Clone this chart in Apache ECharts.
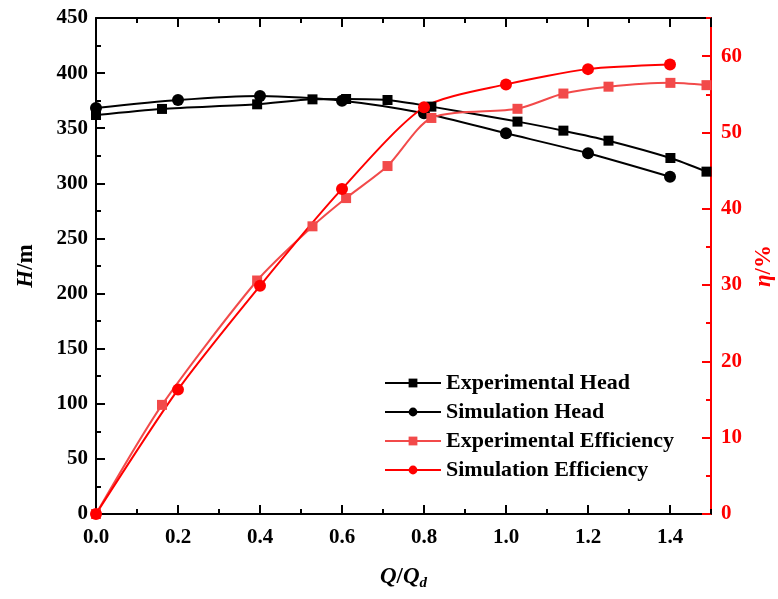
<!DOCTYPE html>
<html>
<head>
<meta charset="utf-8">
<script src="https://cdn.jsdelivr.net/npm/echarts@6/dist/echarts.min.js"></script>
<style>
  html, body { margin: 0; padding: 0; background: #fff; }
  #chart { width: 778px; height: 599px; }
</style>
</head>
<body>
<div id="chart"></div>
<script>
// Flow ratio Q/Qd for the measured points and the simulated points
var qExperimental = [0, 0.161, 0.393, 0.528, 0.610, 0.711, 0.818, 1.028, 1.140, 1.250, 1.401, 1.489];
var qSimulation = [0, 0.2, 0.4, 0.6, 0.8, 1.0, 1.2, 1.4];

// Head H (m)
var headExperimental = [362, 367.5, 371.7, 376.2, 376.5, 375.6, 369.6, 356.0, 347.8, 338.7, 323.0, 310.6];
var headSimulation = [368.4, 375.6, 379.3, 375.0, 363.6, 345.4, 327.3, 306.0];

// Efficiency η (%)
var effExperimental = [0, 14.3, 30.6, 37.7, 41.4, 45.6, 51.9, 53.1, 55.1, 56.0, 56.5, 56.2];
var effSimulation = [0, 16.3, 29.9, 42.6, 53.3, 56.3, 58.3, 58.9];

var seriesNames = ['Experimental Head', 'Simulation Head', 'Experimental Efficiency', 'Simulation Efficiency'];

function pairs(xs, ys) {
  return xs.map(function (x, i) { return [x, ys[i]]; });
}

var FONT = '"Liberation Serif", "DejaVu Serif", serif';
var BLACK = '#000000';
var RED = '#ff0000';
var LIGHT_RED = '#f24a4a';

var chart = echarts.init(document.getElementById('chart'), null, { renderer: 'canvas' });

var tickLabel = { fontFamily: FONT, fontWeight: 'bold', fontSize: 21, color: BLACK };
var gridBox = { left: 96, right: 67, top: 18, bottom: 85, containLabel: false, outerBoundsMode: 'none' };

// Ticks-only axis helper (used on the second, overlaid grid for minor ticks)
function minorAxis(pos, min, max, step, color, grid) {
  return {
    type: 'value', position: pos, gridIndex: grid, min: min, max: max, interval: step,
    axisLine: { show: false, onZero: false },
    axisTick: { show: true, inside: true, length: 5, lineStyle: { color: color, width: 2 } },
    axisLabel: { show: false },
    splitLine: { show: false }
  };
}

chart.setOption({
  animation: false,
  backgroundColor: '#ffffff',
  grid: [Object.assign({}, gridBox), Object.assign({}, gridBox)],
  legend: {
    orient: 'vertical',
    left: 379,
    top: 367,
    itemWidth: 56,
    itemHeight: 11,
    itemGap: 7,
    data: seriesNames,
    textStyle: { fontFamily: FONT, fontWeight: 'bold', fontSize: 22, color: BLACK }
  },
  xAxis: [
    {
      type: 'value', gridIndex: 0, position: 'bottom', min: 0, max: 1.5, interval: 0.2,
      name: '{i|Q}{n|/}{i|Q}{d|d}',
      nameLocation: 'middle', nameGap: 50,
      nameTextStyle: {
        rich: {
          i: { fontFamily: FONT, fontStyle: 'italic', fontWeight: 'bold', fontSize: 23, color: BLACK },
          n: { fontFamily: FONT, fontWeight: 'bold', fontSize: 23, color: BLACK },
          d: { fontFamily: FONT, fontStyle: 'italic', fontWeight: 'bold', fontSize: 15, color: BLACK, padding: [12, 0, 0, 0] }
        }
      },
      axisLine: { onZero: false, lineStyle: { color: BLACK, width: 2 } },
      axisTick: { inside: true, length: 9, lineStyle: { color: BLACK, width: 2 } },
      axisLabel: Object.assign({ margin: 13, showMaxLabel: false, formatter: function (v) { return v.toFixed(1); } }, tickLabel),
      splitLine: { show: false }
    },
    {
      type: 'value', gridIndex: 0, position: 'top', min: 0, max: 1.5, interval: 0.2,
      axisLine: { onZero: false, lineStyle: { color: BLACK, width: 2 } },
      axisTick: { inside: true, length: 9, lineStyle: { color: BLACK, width: 2 } },
      axisLabel: { show: false },
      splitLine: { show: false }
    },
    minorAxis('bottom', 0, 1.5, 0.1, BLACK, 1),
    minorAxis('top', 0, 1.5, 0.1, BLACK, 1)
  ],
  yAxis: [
    {
      type: 'value', gridIndex: 0, position: 'left', min: 0, max: 450, interval: 50,
      name: '{i|H}{n|/m}',
      nameLocation: 'middle', nameGap: 58, nameRotate: 90,
      nameTextStyle: {
        rich: {
          i: { fontFamily: FONT, fontStyle: 'italic', fontWeight: 'bold', fontSize: 23, color: BLACK },
          n: { fontFamily: FONT, fontWeight: 'bold', fontSize: 23, color: BLACK }
        }
      },
      axisLine: { show: true, onZero: false, lineStyle: { color: BLACK, width: 2 } },
      axisTick: { show: true, inside: true, length: 9, lineStyle: { color: BLACK, width: 2 } },
      minorTick: { show: true, splitNumber: 2, length: 5, lineStyle: { color: BLACK, width: 2 } },
      axisLabel: Object.assign({ margin: 8 }, tickLabel),
      splitLine: { show: false }
    },
    {
      type: 'value', gridIndex: 0, position: 'right', min: 0, max: 65, interval: 10,
      name: '{i|η}{n|/%}',
      nameLocation: 'middle', nameGap: 42, nameRotate: 90,
      nameTextStyle: {
        rich: {
          i: { fontFamily: FONT, fontStyle: 'italic', fontWeight: 'bold', fontSize: 23, color: RED },
          n: { fontFamily: FONT, fontWeight: 'bold', fontSize: 23, color: RED }
        }
      },
      axisLine: { show: true, onZero: false, lineStyle: { color: RED, width: 2 } },
      axisTick: { show: true, inside: true, length: 9, lineStyle: { color: RED, width: 2 } },
      axisLabel: { margin: 10, showMaxLabel: false, fontFamily: FONT, fontWeight: 'bold', fontSize: 21, color: RED },
      splitLine: { show: false }
    },
    minorAxis('right', 0, 65, 5, RED, 1),
    {
      type: 'value', gridIndex: 1, position: 'left', min: 0, max: 450, show: false
    }
  ],
  series: [
    {
      name: seriesNames[0], type: 'line', xAxisIndex: 0, yAxisIndex: 0,
      data: pairs(qExperimental, headExperimental),
      smooth: 0.25, symbol: 'rect', symbolSize: 10,
      itemStyle: { color: BLACK }, lineStyle: { color: BLACK, width: 2 }
    },
    {
      name: seriesNames[1], type: 'line', xAxisIndex: 0, yAxisIndex: 0,
      data: pairs(qSimulation, headSimulation),
      smooth: 0.25, symbol: 'circle', symbolSize: 12,
      itemStyle: { color: BLACK }, lineStyle: { color: BLACK, width: 2 }
    },
    {
      name: seriesNames[2], type: 'line', xAxisIndex: 0, yAxisIndex: 1,
      data: pairs(qExperimental, effExperimental),
      smooth: 0.25, symbol: 'rect', symbolSize: 10,
      itemStyle: { color: LIGHT_RED }, lineStyle: { color: LIGHT_RED, width: 2 }
    },
    {
      name: seriesNames[3], type: 'line', xAxisIndex: 0, yAxisIndex: 1,
      data: pairs(qSimulation, effSimulation),
      smooth: 0.25, symbol: 'circle', symbolSize: 12,
      itemStyle: { color: RED }, lineStyle: { color: RED, width: 2 }
    }
  ]
});
</script>
</body>
</html>
